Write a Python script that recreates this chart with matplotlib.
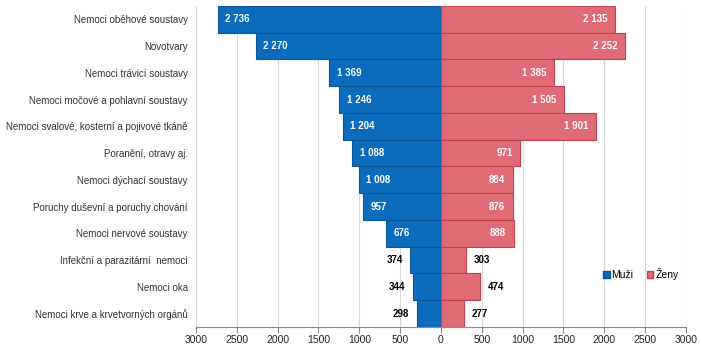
import matplotlib.pyplot as plt
from matplotlib.ticker import FuncFormatter
from matplotlib.patches import Patch

plt.rcParams['font.family'] = ['Liberation Sans', 'DejaVu Sans']

# diagnosis groups, top to bottom
categories = [
    "Nemoci oběhové soustavy",
    "Novotvary",
    "Nemoci trávicí soustavy",
    "Nemoci močové a pohlavní soustavy",
    "Nemoci svalové, kosterní a pojivové tkáně",
    "Poranění, otravy aj.",
    "Nemoci dýchací soustavy",
    "Poruchy duševní a poruchy chování",
    "Nemoci nervové soustavy",
    "Infekční a parazitární  nemoci",
    "Nemoci oka",
    "Nemoci krve a krvetvorných orgánů",
]
muzi = [2736, 2270, 1369, 1246, 1204, 1088, 1008, 957, 676, 374, 344, 298]
zeny = [2135, 2252, 1385, 1505, 1901, 971, 884, 876, 888, 303, 474, 277]
ticks = [-3000, -2500, -2000, -1500, -1000, -500, 0, 500, 1000, 1500, 2000, 2500, 3000]

blue = "#0b6bbd"
blue_edge = "#0a5697"
pink = "#e06b76"
pink_edge = "#c2414d"


def fmt(v):
    return f"{v:,}".replace(",", " ")


fig = plt.figure(figsize=(7.01, 3.49), dpi=100)
ax = fig.add_axes([0.2796, 0.063, 0.699, 0.92])

y = list(range(len(categories)))
ax.barh(y, [-v for v in muzi], height=1.0, color=blue, edgecolor=blue_edge, linewidth=0.8, zorder=2)
ax.barh(y, zeny, height=1.0, color=pink, edgecolor=pink_edge, linewidth=0.8, zorder=2)

ax.set_xlim(-3000, 3000)
ax.set_ylim(len(categories) - 0.5, -0.5)
ax.set_xticks(ticks)
ax.xaxis.set_major_formatter(FuncFormatter(lambda v, p: f"{abs(int(v))}"))
ax.set_yticks(y)
ax.set_yticklabels(categories)
ax.tick_params(axis='y', length=0, pad=6, labelsize=7, labelcolor="#333333")
ax.tick_params(axis='x', length=4, width=0.8, color="#8c8c8c", labelsize=7.5, labelcolor="#222222", pad=2)

ax.grid(axis='x', color="#d9d9d9", linewidth=0.8, zorder=0)
ax.set_axisbelow(True)
for s in ['top', 'right', 'left']:
    ax.spines[s].set_visible(False)
ax.spines['bottom'].set_color("#8c8c8c")
ax.spines['bottom'].set_zorder(3)

# value labels: inside the bar for wide bars, outside for short ones
pad = 95
for i, (m, z) in enumerate(zip(muzi, zeny)):
    if m > 600:
        ax.text(-m + pad, i, fmt(m), ha='left', va='center', color='white',
                fontsize=7, fontweight='bold', zorder=4)
    else:
        ax.text(-m - pad, i, fmt(m), ha='right', va='center', color='black',
                fontsize=7, fontweight='bold', zorder=4)
    if z > 600:
        ax.text(z - pad, i, fmt(z), ha='right', va='center', color='white',
                fontsize=7, fontweight='bold', zorder=4)
    else:
        ax.text(z + pad, i, fmt(z), ha='left', va='center', color='black',
                fontsize=7, fontweight='bold', zorder=4)

handles = [Patch(facecolor=blue, edgecolor=blue_edge, label="Muži"),
           Patch(facecolor=pink, edgecolor=pink_edge, label="Ženy")]
ax.legend(handles=handles, loc='center left', bbox_to_anchor=(0.812, 0.165), ncol=2,
          frameon=False, fontsize=7.5, handlelength=0.6, handleheight=0.6,
          handletextpad=0.2, columnspacing=1.3)

fig.savefig("out.png", dpi=100)
